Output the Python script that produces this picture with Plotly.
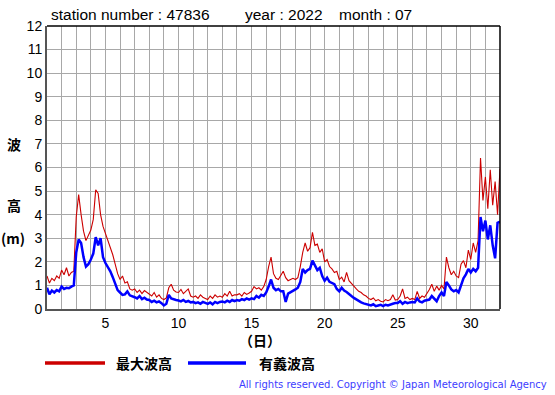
import plotly.graph_objects as go

# ---- data (July 2022, station 47836), 4-hourly readings, day 1.0 = 1 Jul 00:00 ----
steps_per_day = 6
label_days = [5, 10, 15, 20, 25, 30]
y_ticks = list(range(0, 13))

sig_wave = [  # 有義波高 (m)
    0.90, 0.62, 0.78, 0.70, 0.80, 0.75,
    0.95, 0.85, 0.90, 0.88, 0.95, 1.00,
    2.40, 2.95, 2.80, 2.20, 1.80, 1.90,
    2.10, 2.35, 3.05, 2.70, 3.00, 2.20,
    1.95, 1.80, 1.60, 1.35, 1.05, 0.80,
    0.70, 0.60, 0.62, 0.75, 0.58, 0.55,
    0.50, 0.45, 0.55, 0.42, 0.48, 0.40,
    0.38, 0.30, 0.35, 0.28, 0.32, 0.25,
    0.15, 0.22, 0.60, 0.45, 0.40, 0.38,
    0.36, 0.32, 0.38, 0.30, 0.34, 0.28,
    0.30, 0.25, 0.28, 0.22, 0.30, 0.25,
    0.22, 0.28, 0.20, 0.30, 0.25, 0.30,
    0.32, 0.28, 0.35, 0.30, 0.38, 0.33,
    0.38, 0.35, 0.42, 0.38, 0.45, 0.40,
    0.45, 0.42, 0.55, 0.48, 0.60, 0.55,
    0.70, 0.95, 1.25, 0.90, 0.80, 0.85,
    0.75, 0.75, 0.30, 0.65, 0.70, 0.78,
    0.83, 0.90, 1.15, 1.70, 1.55, 1.65,
    1.70, 2.05, 1.85, 1.65, 1.75, 1.40,
    1.20, 1.33, 1.15, 1.10, 1.05, 0.85,
    0.75, 0.90, 0.78, 0.72, 0.65, 0.55,
    0.47, 0.40, 0.33, 0.28, 0.24, 0.20,
    0.18, 0.15, 0.20, 0.12, 0.15, 0.18,
    0.12, 0.18, 0.15, 0.20, 0.22, 0.25,
    0.25, 0.33, 0.22, 0.30, 0.25, 0.28,
    0.30, 0.28, 0.45, 0.32, 0.28, 0.35,
    0.38, 0.40, 0.55, 0.45, 0.33, 0.55,
    0.70, 0.55, 1.15, 1.00, 0.83, 0.75,
    0.80, 0.70, 1.00, 1.30, 1.47, 1.70,
    1.55, 1.70, 1.60, 1.75, 3.90, 3.30,
    3.75, 2.95, 3.55, 2.70, 2.15, 3.65,
    3.70,
]

max_wave = [  # 最大波高 (m)
    1.40, 1.10, 1.30, 1.20, 1.40, 1.30,
    1.65, 1.45, 1.75, 1.40, 1.55, 1.60,
    3.90, 4.85, 4.00, 3.30, 2.90, 3.15,
    3.35, 3.80, 5.05, 4.90, 4.00, 3.50,
    3.20, 2.90, 2.65, 2.30, 1.90, 1.50,
    1.25, 1.40, 1.10, 1.15, 0.85, 0.80,
    0.85, 0.70, 0.80, 0.65, 0.78, 0.70,
    0.65, 0.55, 0.70, 0.50, 0.60, 0.45,
    0.40, 0.47, 0.90, 1.05, 0.80, 0.72,
    0.70, 0.83, 0.65, 0.75, 0.85, 0.55,
    0.50, 0.55, 0.45, 0.60, 0.50, 0.45,
    0.40, 0.55, 0.45, 0.60, 0.50, 0.55,
    0.50, 0.65, 0.55, 0.75, 0.55, 0.60,
    0.60, 0.65, 0.55, 0.70, 0.62, 0.68,
    0.75, 0.95, 0.85, 0.90, 0.80, 0.95,
    1.25, 1.80, 2.20, 1.50, 1.30, 1.25,
    1.40, 1.60, 1.33, 1.20, 1.25, 1.30,
    1.25, 1.33, 1.80, 2.40, 2.80, 2.45,
    2.60, 3.25, 2.70, 2.75, 2.40, 2.55,
    2.00, 2.10, 1.80, 1.70, 1.55, 1.60,
    1.25, 1.35, 1.15, 1.55, 1.20, 1.10,
    0.97, 0.85, 0.75, 0.70, 0.60, 0.55,
    0.45, 0.40, 0.47, 0.35, 0.40, 0.33,
    0.30, 0.40, 0.35, 0.40, 0.60, 0.38,
    0.40, 0.55, 0.85, 0.45, 0.50, 0.40,
    0.45, 0.40, 0.75, 0.45, 0.55, 0.50,
    0.65, 0.83, 1.05, 0.75, 0.97, 0.80,
    1.00, 0.85, 2.20, 1.75, 1.45, 1.60,
    1.40, 1.33, 1.90, 2.05, 1.75, 2.50,
    2.10, 2.80, 2.40, 2.90, 6.40, 4.60,
    5.60, 4.25, 5.90, 4.40, 5.40, 4.00,
    5.95,
]

time_days = [1 + i / steps_per_day for i in range(len(sig_wave))]

# ---- layout geometry (pixels) ----
W, H = 555, 395
L, R, T, B = 47, 500, 26, 309
PW, PH = R - L, B - T


def px(x):
    return (x - L) / PW


def py(y):
    return (B - y) / PH


fig = go.Figure()
fig.add_trace(go.Scatter(x=time_days, y=max_wave, mode="lines",
                         line=dict(color="#cc0000", width=1.1), name="最大波高",
                         showlegend=False))
fig.add_trace(go.Scatter(x=time_days, y=sig_wave, mode="lines",
                         line=dict(color="#0000ff", width=2.5), name="有義波高",
                         showlegend=False))

tick_font = dict(family="Liberation Sans, Arial, sans-serif", size=14, color="#000")
grid_col = "#a8a8a8"

fig.update_xaxes(
    range=[1, 32], tickmode="array", tickvals=label_days,
    ticktext=[str(d) for d in label_days],
    showgrid=True, gridcolor=grid_col, gridwidth=1,
    minor=dict(tick0=1, dtick=1, showgrid=True, gridcolor=grid_col, gridwidth=1, ticks=""),
    showline=True, linecolor="#555555", linewidth=2, mirror=False,
    ticks="", tickfont=tick_font, zeroline=False, fixedrange=True,
)
fig.update_yaxes(
    range=[0, 12], tickmode="array", tickvals=y_ticks,
    ticktext=[str(v) for v in y_ticks],
    showgrid=True, gridcolor=grid_col, gridwidth=1,
    showline=True, linecolor="#555555", linewidth=2, mirror=False,
    ticks="", tickfont=tick_font, zeroline=False, fixedrange=True,
)

shapes = [
    # top and right frame lines
    dict(type="line", xref="paper", yref="paper", x0=0, x1=1, y0=1, y1=1,
         line=dict(color="#000", width=1.5)),
    dict(type="line", xref="paper", yref="paper", x0=1, x1=1, y0=0, y1=1,
         line=dict(color="#000", width=1.5)),
    # legend lines
    dict(type="line", xref="paper", yref="paper", x0=px(45), x1=px(105),
         y0=py(363), y1=py(363), line=dict(color="#cc0000", width=3.5)),
    dict(type="line", xref="paper", yref="paper", x0=px(188), x1=px(246),
         y0=py(363), y1=py(363), line=dict(color="#0000ff", width=3.5)),
]

title_font = dict(family="Liberation Sans, Arial, sans-serif", size=15.5, color="#000")
cjk_font = dict(family="Noto Sans CJK JP", size=14, color="#000")


def ann(text, x, y, font, xanchor="left"):
    return dict(text=text, x=px(x), y=py(y), xref="paper", yref="paper",
                xanchor=xanchor, yanchor="middle", showarrow=False, font=font)


annotations = [
    ann("station number : 47836", 49, 15, title_font),
    ann("year : 2022", 243, 15, title_font),
    ann("month : 07", 337, 15, title_font),
    ann("<b>波</b>", 14, 144, cjk_font, "center"),
    ann("<b>高</b>", 14, 205, cjk_font, "center"),
    ann("<b>(m)</b>", 13, 238, cjk_font, "center"),
    ann("<b>（日）</b>", 260, 340, cjk_font, "center"),
    ann("<b>最大波高</b>", 114, 363, cjk_font),
    ann("<b>有義波高</b>", 257, 363, cjk_font),
    ann("All rights reserved. Copyright © Japan Meteorological Agency", 549, 384,
        dict(family="DejaVu Sans, Verdana, sans-serif", size=10, color="#3c3cff"),
        "right"),
]

fig.update_layout(
    width=W, height=H,
    margin=dict(l=L, r=W - R, t=T, b=H - B, pad=0),
    paper_bgcolor="#ffffff", plot_bgcolor="#ffffff",
    shapes=shapes, annotations=annotations, showlegend=False,
)

fig.write_html(
    "out.html",
    config={"displayModeBar": False},
    post_script="document.body.style.margin='0';document.body.style.overflow='hidden';",
)
